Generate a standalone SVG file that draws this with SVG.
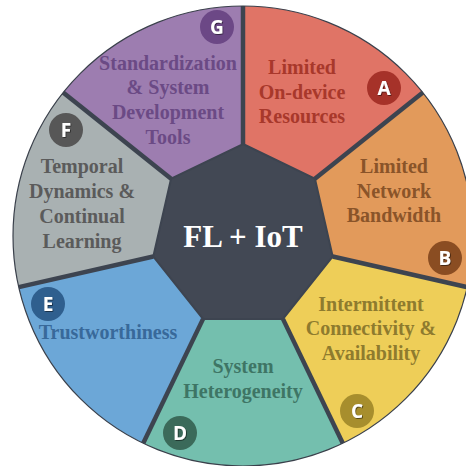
<svg xmlns="http://www.w3.org/2000/svg" width="466" height="466" viewBox="0 0 466 466">
<defs>
<style>
.seg{stroke:none}
.lbl{font-family:"Liberation Serif","Times New Roman",serif;font-weight:bold;font-size:20px;text-anchor:middle}
.badge text{font-family:"Open Sans","Liberation Sans",Arial,sans-serif;font-weight:bold;font-size:19px;fill:#fff;text-anchor:middle}
.div{stroke:#3d4450;stroke-width:4.5;stroke-linecap:butt}
</style>
<filter id="sh" x="-20%" y="-20%" width="140%" height="140%"><feDropShadow dx="0.8" dy="0.8" stdDeviation="0.4" flood-color="#000" flood-opacity="0.6"/></filter>
</defs>
<rect width="466" height="466" fill="#fff"/>
<g id="A">
<path class="seg" fill="#E07466" d="M243,144 L243,6 A230,230 0 0 1 422.82,92.6 L314.93,178.64 Z"/>
<text class="lbl" fill="#A8382B" x="302" y="74">Limited</text>
<text class="lbl" fill="#A8382B" x="302" y="99">On-device</text>
<text class="lbl" fill="#A8382B" x="302" y="123">Resources</text>
<g class="badge"><circle cx="384" cy="88" r="17" fill="#A63229"/><text x="384" y="95" filter="url(#sh)">A</text></g>
</g>
<g id="B">
<path class="seg" fill="#E29A5B" d="M314.93,178.64 L422.82,92.6 A230,230 0 0 1 467.23,287.18 L332.69,256.47 Z"/>
<text class="lbl" fill="#8A5429" x="394" y="173">Limited</text>
<text class="lbl" fill="#8A5429" x="394" y="198">Network</text>
<text class="lbl" fill="#8A5429" x="394" y="222">Bandwidth</text>
<g class="badge"><circle cx="445" cy="258" r="17" fill="#8A4D22"/><text x="445" y="265" filter="url(#sh)">B</text></g>
</g>
<g id="C">
<path class="seg" fill="#EECE58" d="M332.69,256.47 L467.23,287.18 A230,230 0 0 1 342.79,443.22 L282.92,318.89 Z"/>
<text class="lbl" fill="#8E7B2E" x="371" y="311">Intermittent</text>
<text class="lbl" fill="#8E7B2E" x="371" y="335">Connectivity &amp;</text>
<text class="lbl" fill="#8E7B2E" x="371" y="360">Availability</text>
<g class="badge"><circle cx="357" cy="411" r="17" fill="#A78E2D"/><text x="357" y="418" filter="url(#sh)">C</text></g>
</g>
<g id="D">
<path class="seg" fill="#74BFAE" d="M282.92,318.89 L342.79,443.22 A230,230 0 0 1 143.21,443.22 L203.08,318.89 Z"/>
<text class="lbl" fill="#3E7565" x="243" y="373">System</text>
<text class="lbl" fill="#3E7565" x="243" y="398">Heterogeneity</text>
<g class="badge"><circle cx="180" cy="433" r="17" fill="#3B6A5A"/><text x="180" y="440" filter="url(#sh)">D</text></g>
</g>
<g id="E">
<path class="seg" fill="#6CA7D7" d="M203.08,318.89 L143.21,443.22 A230,230 0 0 1 18.77,287.18 L153.31,256.47 Z"/>
<text class="lbl" fill="#38699A" x="108" y="339">Trustworthiness</text>
<g class="badge"><circle cx="48" cy="304" r="17" fill="#2F5F8E"/><text x="48" y="311" filter="url(#sh)">E</text></g>
</g>
<g id="F">
<path class="seg" fill="#A9B1B2" d="M153.31,256.47 L18.77,287.18 A230,230 0 0 1 63.18,92.6 L171.07,178.64 Z"/>
<text class="lbl" fill="#5B5B5B" x="82" y="173">Temporal</text>
<text class="lbl" fill="#5B5B5B" x="82" y="198">Dynamics &amp;</text>
<text class="lbl" fill="#5B5B5B" x="82" y="223">Continual</text>
<text class="lbl" fill="#5B5B5B" x="82" y="248">Learning</text>
<g class="badge"><circle cx="66" cy="130" r="17" fill="#575757"/><text x="66" y="137" filter="url(#sh)">F</text></g>
</g>
<g id="G">
<path class="seg" fill="#9D7DB0" d="M171.07,178.64 L63.18,92.6 A230,230 0 0 1 243,6 L243,144 Z"/>
<text class="lbl" fill="#6B4A85" x="168" y="70">Standardization</text>
<text class="lbl" fill="#6B4A85" x="168" y="94">&amp; System</text>
<text class="lbl" fill="#6B4A85" x="168" y="119">Development</text>
<text class="lbl" fill="#6B4A85" x="168" y="144">Tools</text>
<g class="badge"><circle cx="217" cy="27" r="17" fill="#6C4886"/><text x="217" y="34" filter="url(#sh)">G</text></g>
</g>
<g id="connectors">
<line class="div" x1="243" y1="144" x2="243" y2="6"/>
<line class="div" x1="314.93" y1="178.64" x2="422.82" y2="92.6"/>
<line class="div" x1="332.69" y1="256.47" x2="467.23" y2="287.18"/>
<line class="div" x1="282.92" y1="318.89" x2="342.79" y2="443.22"/>
<line class="div" x1="203.08" y1="318.89" x2="143.21" y2="443.22"/>
<line class="div" x1="153.31" y1="256.47" x2="18.77" y2="287.18"/>
<line class="div" x1="171.07" y1="178.64" x2="63.18" y2="92.6"/>
</g>
<circle cx="243" cy="236" r="230" fill="none" stroke="#3a404b" stroke-width="1.2"/>
<g id="center">
<polygon fill="#424854" stroke="#3d4450" stroke-width="2" points="243,144 314.93,178.64 332.69,256.47 282.92,318.89 203.08,318.89 153.31,256.47 171.07,178.64"/>
<text x="243" y="247" font-family="Liberation Serif,'Times New Roman',serif" font-weight="bold" font-size="31" fill="#fff" text-anchor="middle">FL + IoT</text>
</g>
</svg>
